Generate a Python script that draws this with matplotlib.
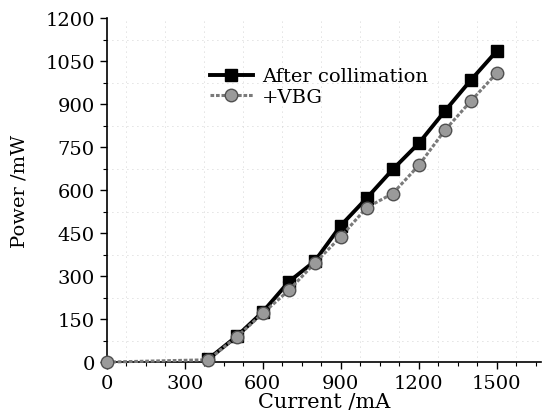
import numpy as np
import matplotlib
matplotlib.use('Agg')
import matplotlib.pyplot as plt
from matplotlib.ticker import MultipleLocator

# --- datos ---
current_col = [390, 500, 600, 700, 800, 900, 1000, 1100, 1200, 1300, 1400, 1500]
power_col = [10, 90, 175, 280, 352, 476, 572, 672, 763, 875, 983, 1085]

current_vbg = [0, 390, 500, 600, 700, 800, 900, 1000, 1100, 1200, 1300, 1400, 1500]
power_vbg = [0, 8, 88, 170, 250, 345, 437, 539, 588, 686, 808, 910, 1008]

xticks = [0, 300, 600, 900, 1200, 1500]
yticks = [0, 150, 300, 450, 600, 750, 900, 1050, 1200]

plt.rcParams['font.family'] = ['DejaVu Serif']
plt.rcParams['mathtext.fontset'] = 'dejavuserif'

fig = plt.figure(figsize=(5.42, 4.14), dpi=100)
ax = fig.add_axes([0.197, 0.123, 0.801, 0.831])

# rejilla punteada en posiciones intermedias
for v in np.arange(75, 1670, 150):
    ax.axvline(v, color='#c4c4c4', lw=0.6, ls=(0, (1, 5)), zorder=0)
for v in np.arange(75, 1200, 150):
    ax.axhline(v, color='#c4c4c4', lw=0.6, ls=(0, (1, 5)), zorder=0)

ax.plot(current_col, power_col, color='black', lw=2.8, marker='s', ms=8.5,
        mfc='black', mec='black', label='After collimation', zorder=3)
ax.plot(current_vbg, power_vbg, color='#7a7a7a', lw=2.2, ls=(0, (1.2, 0.6)),
        marker='o', ms=9, mfc='#9a9a9a', mec='#505050', mew=1.0,
        label='+VBG', zorder=4, clip_on=False)

ax.set_xlim(0, 1670)
ax.set_ylim(0, 1200)
ax.set_xticks(xticks)
ax.set_yticks(yticks)
ax.xaxis.set_minor_locator(MultipleLocator(75))
ax.yaxis.set_minor_locator(MultipleLocator(75))
ax.tick_params(which='major', direction='out', length=5, width=1, labelsize=14)
ax.tick_params(which='minor', direction='out', length=3, width=0.8)

for s in ['top', 'right']:
    ax.spines[s].set_visible(False)
for s in ['left', 'bottom']:
    ax.spines[s].set_linewidth(1.2)

ax.set_xlabel('Current /mA', fontsize=15, labelpad=0)
ax.set_ylabel('Power /mW', fontsize=14, labelpad=12)

leg = ax.legend(loc='upper left', bbox_to_anchor=(0.215, 0.885), frameon=False,
                fontsize=14, handlelength=2.2, handletextpad=0.5,
                labelspacing=0.15, borderpad=0)

plt.savefig('out.png', dpi=100)
plt.close()
